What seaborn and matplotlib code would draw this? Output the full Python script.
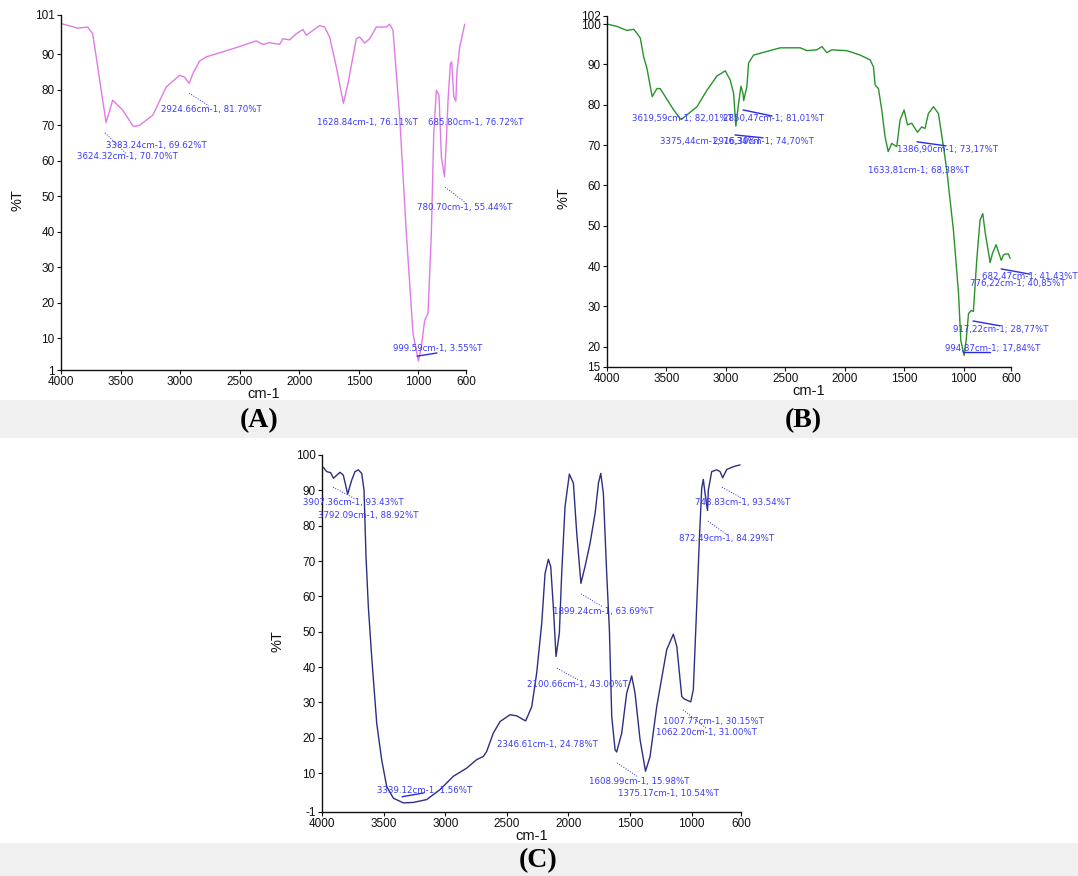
import numpy as np
import pandas as pd
import matplotlib
matplotlib.use("Agg")
import matplotlib.pyplot as plt
import seaborn as sns

# ---------------- spectrum A ----------------
wn_a = [4000, 3860, 3776, 3734, 3692, 3650, 3622, 3566, 3482, 3397, 3383, 3341, 3229,
        3117, 3005, 2963, 2924, 2893, 2837, 2781, 2557, 2361, 2305, 2249, 2165, 2137,
        2081, 2025, 1969, 1941, 1829, 1787, 1745, 1689, 1629, 1591, 1521, 1493, 1451,
        1409, 1353, 1269, 1241, 1213, 1157, 1101, 1045, 1000, 975, 947, 919, 891, 871,
        849, 827, 807, 781, 765, 751, 731, 720, 703, 686, 675, 653, 611]
t_a = [98.6, 97.3, 97.6, 95.7, 86.4, 77.0, 70.7, 77.0, 74.2, 69.8, 69.62, 69.9, 72.8,
       80.7, 84.0, 83.5, 81.7, 84.5, 88.0, 89.2, 91.5, 93.7, 92.7, 93.2, 92.7, 94.3,
       94.0, 95.7, 96.9, 95.3, 98.0, 97.6, 94.8, 86.4, 76.11, 81.7, 94.3, 94.8, 93.1,
       94.3, 97.6, 97.6, 98.4, 96.7, 72.3, 39.5, 11.3, 3.55, 7.6, 15.0, 17.0, 39.5, 67.6,
       79.8, 78.4, 61.0, 55.44, 65.7, 77.0, 87.3, 87.8, 78.0, 76.72, 85.4, 92.0, 98.4]
labels_a = ["2924.66cm-1, 81.70%T", "1628.84cm-1, 76.11%T", "685.80cm-1, 76.72%T",
            "3383.24cm-1, 69.62%T", "3624.32cm-1, 70.70%T", "780.70cm-1, 55.44%T",
            "999.59cm-1, 3.55%T"]
label_pos_a = [(3161, 74.5), (1851, 70.6), (919, 70.6), (3622, 64.1), (3866, 61.0),
               (1011, 46.9), (1213, 7.2)]
leaders_a = [((2925, 79.0), (2758, 75.4), ":"), ((3631, 67.8), (3446, 61.8), ":"),
             ((776, 52.5), (609, 48.3), ":"), ((1011, 4.9), (844, 5.8), "-")]

# ---------------- spectrum B ----------------
wn_b = [4000, 3916, 3832, 3776, 3748, 3720, 3692, 3664, 3636, 3620, 3580, 3552, 3510,
        3439, 3383, 3375, 3243, 3159, 3075, 3005, 2963, 2935, 2916, 2893, 2873, 2856,
        2850, 2823, 2809, 2767, 2655, 2542, 2374, 2318, 2234, 2192, 2150, 2108, 1982,
        1870, 1786, 1758, 1744, 1716, 1688, 1660, 1634, 1604, 1562, 1534, 1500, 1472,
        1436, 1387, 1352, 1324, 1296, 1253, 1211, 1169, 1141, 1085, 1042, 1023, 995,
        978, 958, 936, 917, 889, 861, 838, 816, 776, 757, 726, 682, 665, 650, 622, 608]
t_b = [100.0, 99.4, 98.4, 98.7, 97.7, 96.5, 91.9, 89.0, 84.5, 82.01, 84.0, 84.0, 82.0,
       78.7, 76.5, 76.34, 79.5, 83.6, 87.1, 88.4, 86.1, 82.8, 74.7, 80.3, 84.6, 82.8,
       81.01, 84.5, 90.3, 92.3, 93.2, 94.1, 94.1, 93.4, 93.6, 94.4, 92.9, 93.6, 93.4,
       92.3, 91.1, 89.4, 84.9, 84.0, 78.7, 72.0, 68.38, 70.4, 69.6, 76.2, 78.7, 75.0,
       75.4, 73.17, 74.5, 74.1, 77.8, 79.5, 77.8, 69.6, 63.8, 48.9, 33.2, 21.6, 17.84,
       21.6, 28.2, 29.0, 28.77, 41.4, 51.4, 53.0, 48.0, 40.85, 43.1, 45.3, 41.43, 42.7,
       43.0, 43.0, 41.9]
labels_b = ["3619,59cm-1; 82,01%T", "2850,47cm-1; 81,01%T", "3375,44cm-1; 76,34%T",
            "2916,39cm-1; 74,70%T", "1386,90cm-1; 73,17%T", "1633,81cm-1; 68,38%T",
            "682,47cm-1; 41,43%T", "776,22cm-1; 40,85%T", "917,22cm-1; 28,77%T",
            "994,87cm-1; 17,84%T"]
label_pos_b = [(3790, 76.7), (3024, 76.5), (3554, 71.0), (3108, 70.8), (1559, 69.0),
               (1803, 63.6), (844, 37.3), (945, 35.6), (1088, 24.4), (1155, 19.5)]
leaders_b = [((2855, 78.7), (2611, 77.2), "-"), ((2923, 72.5), (2687, 71.8), "-"),
             ((1391, 70.8), (1147, 69.8), "-"), ((684, 39.3), (440, 38.0), "-"),
             ((920, 26.4), (693, 25.2), "-"), ((1004, 18.7), (777, 18.7), "-")]

# ---------------- spectrum C ----------------
wn_c = [3989, 3962, 3930, 3907, 3854, 3827, 3805, 3792, 3759, 3732, 3705, 3678, 3659,
        3643, 3624, 3597, 3556, 3516, 3475, 3421, 3339, 3259, 3151, 3043, 2934, 2826,
        2745, 2691, 2664, 2610, 2555, 2474, 2420, 2366, 2347, 2298, 2258, 2217, 2190,
        2163, 2144, 2123, 2101, 2074, 2055, 2028, 1993, 1960, 1933, 1899, 1866, 1825,
        1784, 1757, 1738, 1717, 1690, 1668, 1649, 1622, 1609, 1568, 1528, 1487, 1460,
        1419, 1375, 1338, 1284, 1203, 1149, 1121, 1081, 1062, 1008, 987, 965, 938, 919,
        906, 892, 872, 865, 838, 797, 770, 749, 716, 662, 608]
t_c = [96.5, 95.3, 95.0, 93.43, 95.1, 94.3, 91.0, 88.92, 92.9, 95.3, 95.8, 94.8, 90.1,
       71.3, 57.1, 43.0, 24.1, 13.8, 6.2, 2.9, 1.56, 1.7, 2.5, 5.3, 9.1, 11.4,
       13.8, 14.7, 16.1, 21.3, 24.6, 26.5, 26.2, 25.1, 24.78, 28.8, 38.3, 52.4, 66.5,
       70.5, 68.4, 57.1, 43.0, 49.6, 66.5, 85.4, 94.6, 92.0, 77.9, 63.69, 68.4, 75.0,
       83.5, 92.0, 94.8, 89.2, 66.5, 50.5, 26.0, 16.6, 15.98, 21.3, 32.6, 37.5, 32.6,
       19.4, 10.54, 14.7, 28.8, 44.9, 49.3, 45.8, 31.7, 31.0, 30.15, 33.6, 52.4, 76.0,
       90.6, 93.1, 89.2, 84.29, 90.1, 95.3, 95.8, 95.3, 93.54, 95.9, 96.7, 97.2]
labels_c = ["3907.36cm-1, 93.43%T", "3792.09cm-1, 88.92%T", "748.83cm-1, 93.54%T",
            "872.49cm-1, 84.29%T", "1899.24cm-1, 63.69%T", "2100.66cm-1, 43.00%T",
            "1007.77cm-1, 30.15%T", "1062.20cm-1, 31.00%T", "2346.61cm-1, 24.78%T",
            "1608.99cm-1, 15.98%T", "1375.17cm-1, 10.54%T", "3339.12cm-1, 1.56%T"]
label_pos_c = [(4154, 86.7), (4032, 83.0), (973, 86.7), (1103, 76.5), (2126, 55.6),
               (2337, 35.2), (1233, 24.5), (1290, 21.6), (2580, 18.0), (1833, 7.5),
               (1598, 4.1), (3554, 5.2)]
leaders_c = [((3911, 90.9), (3732, 87.6), ":"), ((754, 90.9), (584, 87.6), ":"),
             ((868, 81.3), (713, 77.4), ":"), ((1898, 60.7), (1720, 57.0), ":"),
             ((2093, 39.7), (1923, 36.4), ":"), ((1071, 27.9), (876, 22.5), ":"),
             ((1606, 12.9), (1436, 8.9), ":"), ((3351, 3.3), (3172, 4.4), "-")]

x_ticks = [4000, 3500, 3000, 2500, 2000, 1500, 1000, 600]

sns.set_style("white")
plt.rcParams["font.family"] = ["Liberation Sans", "DejaVu Sans"]

fig = plt.figure(figsize=(10.78, 8.76), dpi=100)

# grey caption strips
for (y0, h) in [(0.5, 0.0434), (0.0, 0.0377)]:
    fig.patches.append(plt.Rectangle((0, y0), 1, h, transform=fig.transFigure,
                                     facecolor="#f0f0f0", edgecolor="none", zorder=0))

NOTE_COLOR = "#3a3aff"
LEAD_COLOR = "#2a2ae8"


def draw_panel(rect, wn, t, color, ylim, yticks, labels, label_pos, leaders):
    ax = fig.add_axes(rect)
    ax.patch.set_alpha(0)
    df = pd.DataFrame({"wn": wn, "t": t})
    sns.lineplot(data=df, x="wn", y="t", ax=ax, color=color, lw=1.0,
                 estimator=None, sort=False)
    ax.set_xlim(4000, 600)
    ax.set_ylim(*ylim)
    ax.set_xticks(x_ticks)
    ax.set_yticks(yticks)
    ax.set_yticklabels([str(v) for v in yticks])
    sns.despine(ax=ax)
    for s in ["left", "bottom"]:
        ax.spines[s].set_color("#111111")
        ax.spines[s].set_linewidth(1.0)
    ax.tick_params(axis="both", direction="out", length=3, width=0.8, pad=1.5,
                   labelsize=8.5, colors="#111111", left=True, bottom=True)
    ax.set_xlabel("cm-1", fontsize=10.5, color="#111111")
    ax.set_ylabel("%T", fontsize=10.5, color="#111111")
    ax.xaxis.set_label_coords(0.5, -0.048)
    ax.yaxis.set_label_coords(-0.09, 0.48)
    for txt, (x, y) in zip(labels, label_pos):
        ax.text(x, y, txt, fontsize=6.2, color=NOTE_COLOR, ha="left", va="center",
                family="DejaVu Sans", clip_on=False)
    for (p0, p1, ls) in leaders:
        ax.plot([p0[0], p1[0]], [p0[1], p1[1]], color=LEAD_COLOR,
                lw=0.7 if ls == ":" else 1.0, ls=ls, clip_on=False)
    return ax


draw_panel([0.0566, 0.5776, 0.3757, 0.4053], wn_a, t_a, "#e07ae6", (1, 101),
           [1, 10, 20, 30, 40, 50, 60, 70, 80, 90, 101], labels_a, label_pos_a, leaders_a)
draw_panel([0.5631, 0.5811, 0.3748, 0.4007], wn_b, t_b, "#2a922a", (15, 102),
           [15, 20, 30, 40, 50, 60, 70, 80, 90, 100, 102], labels_b, label_pos_b, leaders_b)
draw_panel([0.2987, 0.0731, 0.3887, 0.4075], wn_c, t_c, "#2e2e82", (-1, 100),
           [-1, 10, 20, 30, 40, 50, 60, 70, 80, 90, 100], labels_c, label_pos_c, leaders_c)

for txt, x, y in [("(A)", 259 / 1078, 1 - 421 / 876), ("(B)", 803 / 1078, 1 - 421 / 876),
                  ("(C)", 538 / 1078, 1 - 861 / 876)]:
    fig.text(x, y, txt, ha="center", va="center", fontsize=20, fontweight="bold",
             family="Liberation Serif", color="black")

fig.savefig("out.png", dpi=100)
